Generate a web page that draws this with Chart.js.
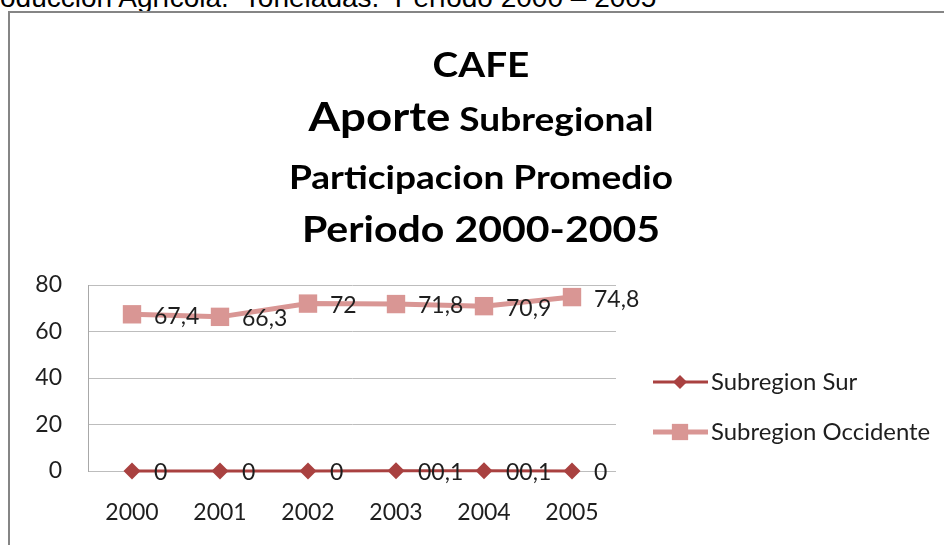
<!DOCTYPE html>
<html>
<head>
<meta charset="utf-8">
<script src="https://cdn.jsdelivr.net/npm/chart.js@4"></script>
<style>
html,body{margin:0;padding:0;background:#fff;}
#wrap{position:relative;width:944px;height:545px;overflow:hidden;background:#fff;}
#head{position:absolute;left:-28px;top:-16px;font-family:"Liberation Sans",Arial,sans-serif;font-size:28px;line-height:28px;white-space:pre;color:#000;}
#frame{position:absolute;left:8px;top:11px;width:1000px;height:600px;border-left:2px solid #858585;border-top:2px solid #858585;}
#cv{position:absolute;left:0;top:0;}
</style>
</head>
<body>
<div id="wrap">
  <div id="head">Producción Agrícola.  Toneladas.  Período 2000 – 2005</div>
  <div id="frame"></div>
  <canvas id="cv" width="944" height="545"></canvas>
</div>
<script>
const categories = ['2000', '2001', '2002', '2003', '2004', '2005'];
const seriesNames = ['Subregion Sur', 'Subregion Occidente'];
const surValues = [0, 0, 0, 0.1, 0.1, 0];
const surLabels = ['0', '0', '0', '00,1', '00,1', '0'];
const occidenteValues = [67.4, 66.3, 72, 71.8, 70.9, 74.8];
const occidenteLabels = ['67,4', '66,3', '72', '71,8', '70,9', '74,8'];
const yTicks = [0, 20, 40, 60, 80];
const titleLines = [['CAFE'], ['Aporte', 'Subregional'], ['Participacion Promedio'], ['Periodo 2000-2005']];

const FONT = 'Lato, "Open Sans", sans-serif';
const TEXT = '#1e1e1e';
const TXT_SIZE = 23;

const titleStyle = [
  { y: 77, sizes: [34] },
  { y: 131, sizes: [40, 32.5] },
  { y: 189, sizes: [32.5] },
  { y: 242, sizes: [36] }
];
const TITLE_STRETCH = 1.14;

const titlePlugin = {
  id: 'titleLines',
  afterDraw(chart) {
    const ctx = chart.ctx;
    const cx = 481;
    ctx.save();
    ctx.fillStyle = '#000';
    ctx.textBaseline = 'alphabetic';
    ctx.textAlign = 'left';
    titleLines.forEach((parts, i) => {
      const st = titleStyle[i];
      const widths = parts.map((p, j) => { ctx.font = 'bold ' + st.sizes[j] + 'px ' + FONT; return ctx.measureText(p).width; });
      ctx.font = 'bold ' + st.sizes[st.sizes.length - 1] + 'px ' + FONT;
      const gap = parts.length > 1 ? ctx.measureText(' ').width : 0;
      const total = (widths.reduce((a, b) => a + b, 0) + gap * (parts.length - 1)) * TITLE_STRETCH;
      let x = cx - total / 2;
      parts.forEach((p, j) => {
        ctx.font = 'bold ' + st.sizes[j] + 'px ' + FONT;
        ctx.save();
        ctx.translate(x, st.y);
        ctx.scale(TITLE_STRETCH, 1);
        ctx.fillText(p, 0, 0);
        ctx.restore();
        x += (widths[j] + gap) * TITLE_STRETCH;
      });
    });
    ctx.restore();
  }
};

const allLabels = [surLabels, occidenteLabels];
const labelPlugin = {
  id: 'pointLabels',
  afterDatasetsDraw(chart) {
    const ctx = chart.ctx;
    ctx.save();
    ctx.font = TXT_SIZE + 'px ' + FONT;
    ctx.fillStyle = TEXT;
    ctx.textAlign = 'left';
    ctx.textBaseline = 'middle';
    chart.data.datasets.forEach((ds, di) => {
      const meta = chart.getDatasetMeta(di);
      meta.data.forEach((pt, i) => {
        ctx.fillText(allLabels[di][i], pt.x + 22, pt.y + 2);
      });
    });
    ctx.restore();
  }
};

const legendPlugin = {
  id: 'customLegend',
  afterDraw(chart) {
    const ctx = chart.ctx;
    const ys = [382, 432];
    const radii = [7, 11.5];
    ctx.save();
    chart.data.datasets.forEach((ds, di) => {
      const y = ys[di];
      ctx.strokeStyle = ds.borderColor;
      ctx.lineWidth = ds.borderWidth;
      ctx.beginPath();
      ctx.moveTo(653, y);
      ctx.lineTo(708, y);
      ctx.stroke();
      ctx.fillStyle = ds.pointBackgroundColor;
      Chart.helpers.drawPoint(ctx, { pointStyle: ds.pointStyle, radius: radii[di], rotation: 0, borderWidth: 0 }, 680, y);
      ctx.fillStyle = TEXT;
      ctx.font = TXT_SIZE + 'px ' + FONT;
      ctx.textAlign = 'left';
      ctx.textBaseline = 'middle';
      ctx.save();
      ctx.translate(711, y + 1);
      ctx.scale(1.04, 1);
      ctx.fillText(ds.label, 0, 0);
      ctx.restore();
    });
    ctx.restore();
  }
};

new Chart(document.getElementById('cv'), {
  type: 'line',
  data: {
    labels: categories,
    datasets: [
      {
        label: seriesNames[0],
        data: surValues,
        borderColor: '#a94140',
        backgroundColor: '#a94140',
        pointBackgroundColor: '#a94140',
        pointBorderColor: '#a94140',
        borderWidth: 3,
        pointStyle: 'rectRot',
        pointRadius: 8.5,
        pointBorderWidth: 0,
        tension: 0,
        clip: false
      },
      {
        label: seriesNames[1],
        data: occidenteValues,
        borderColor: '#d99694',
        backgroundColor: '#d99694',
        pointBackgroundColor: '#d99694',
        pointBorderColor: '#d99694',
        borderWidth: 5,
        pointStyle: 'rect',
        pointRadius: 13,
        pointBorderWidth: 0,
        tension: 0,
        clip: false
      }
    ]
  },
  options: {
    responsive: false,
    animation: false,
    devicePixelRatio: 1,
    layout: { padding: { top: 285, right: 328, bottom: 0, left: 0 } },
    plugins: { legend: { display: false }, title: { display: false }, tooltip: { enabled: false } },
    scales: {
      x: {
        offset: true,
        grid: { display: false, drawTicks: false },
        border: { display: false },
        ticks: { padding: 28, font: { family: FONT, size: TXT_SIZE }, color: TEXT, maxRotation: 0 },
        afterFit(s) { s.height = 74; }
      },
      y: {
        min: 0,
        max: 80,
        afterBuildTicks(s) { s.ticks = yTicks.map(v => ({ value: v })); },
        ticks: { padding: 26, font: { family: FONT, size: TXT_SIZE }, color: TEXT },
        grid: { color: '#bdbdbd', lineWidth: 1, drawTicks: false },
        border: { display: true, color: '#a8a8a8', width: 1 },
        afterFit(s) { s.width = 88; }
      }
    }
  },
  plugins: [titlePlugin, labelPlugin, legendPlugin]
});
</script>
</body>
</html>
